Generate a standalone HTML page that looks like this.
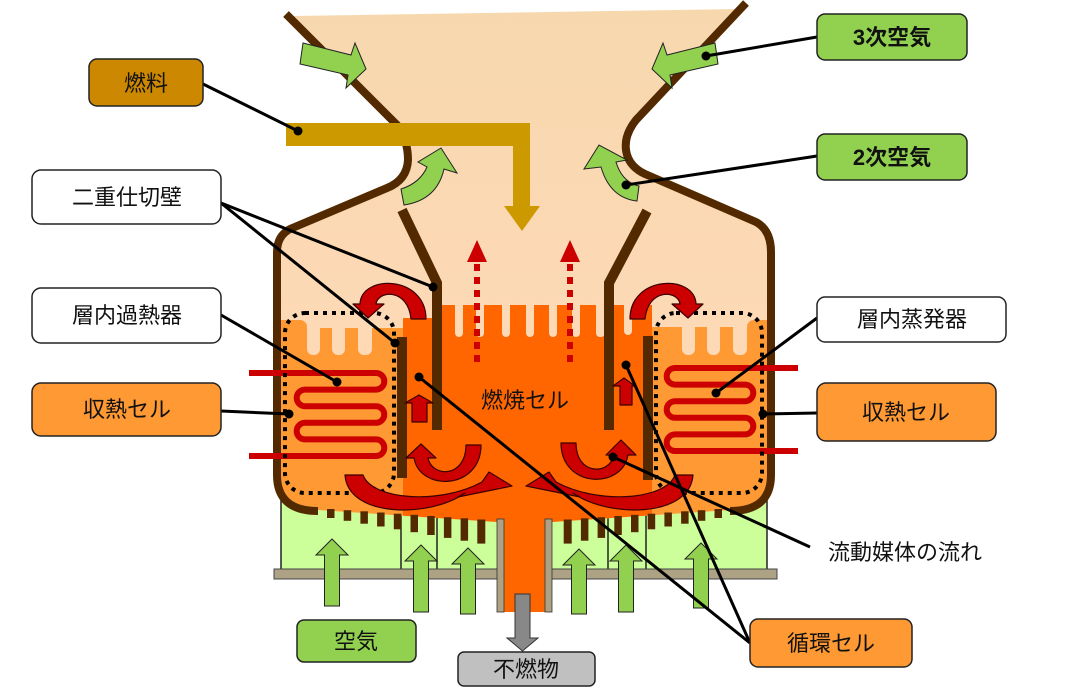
<!DOCTYPE html>
<html><head><meta charset="utf-8"><style>
html,body{margin:0;padding:0;background:#fff;}
svg{display:block;}
text{font-family:"Liberation Sans","Noto Sans CJK JP",sans-serif;font-size:22px;fill:#111;}
</style></head><body>
<svg width="1087" height="691" viewBox="0 0 1087 691" xmlns="http://www.w3.org/2000/svg">
<defs>
<linearGradient id="pg" gradientUnits="userSpaceOnUse" x1="0" y1="0" x2="0" y2="320">
<stop offset="0" stop-color="#F7D8AD"/><stop offset="1" stop-color="#FDD9B6"/>
</linearGradient>
<clipPath id="vc"><path d="M293,16 L740,9 L636,120 Q624,135 626,150 Q628,166 645,174 L756,222 Q771,230 771,252 L771,475 Q771,510 730,510 L552,522 L552,612 L497,612 L497,522 L318,510 Q277,510 277,475 L277,252 Q277,236 290,229 L387,188 Q407,180 408,160 Q408,140 397,125 Z"/></clipPath>
</defs>

<!-- green windbox -->
<rect x="281" y="490" width="486" height="80" fill="#CCFF99" stroke="#222" stroke-width="1.5"/>
<g stroke="#222" stroke-width="1.5">
<line x1="401" y1="490" x2="401" y2="570"/><line x1="437" y1="490" x2="437" y2="570"/>
<line x1="608" y1="490" x2="608" y2="570"/><line x1="646" y1="490" x2="646" y2="570"/>
</g>
<rect x="274" y="569" width="503" height="10" fill="#ADA283" stroke="#444" stroke-width="1"/>

<!-- vessel interior -->
<g clip-path="url(#vc)">
<rect x="260" y="0" width="530" height="620" fill="url(#pg)"/>
<rect x="270" y="328" width="133" height="250" fill="#FF9933"/>
<rect x="270" y="320" width="37" height="40" rx="7" fill="#FF9933"/>
<g fill="#FDD9B6">
<rect x="307" y="305" width="13" height="50" rx="6"/><rect x="332" y="305" width="13" height="50" rx="6"/><rect x="358" y="305" width="14" height="50" rx="6"/>
</g>
<rect x="652" y="327" width="130" height="250" fill="#FF9933"/>
<rect x="747" y="320" width="30" height="40" rx="7" fill="#FF9933"/>
<g fill="#FDD9B6">
<rect x="682" y="305" width="13" height="50" rx="6"/><rect x="707" y="305" width="13" height="50" rx="6"/><rect x="733" y="305" width="14" height="50" rx="6"/>
</g>
<rect x="403" y="305" width="249" height="320" fill="#FF6600"/>
<g fill="#FDD9B6">
<rect x="403" y="290" width="30" height="28"/>
<rect x="455" y="295" width="8" height="42" rx="4"/><rect x="476" y="295" width="8" height="42" rx="4"/>
<rect x="502" y="295" width="8" height="42" rx="4"/><rect x="526" y="295" width="8" height="42" rx="4"/>
<rect x="549" y="295" width="8" height="42" rx="4"/><rect x="572" y="295" width="8" height="42" rx="4"/>
<rect x="596" y="295" width="9" height="42" rx="4"/><rect x="624" y="295" width="8" height="40" rx="4"/>
</g>
</g>

<!-- outlet pipe -->
<rect x="497" y="515" width="55" height="97" fill="#FF6600"/>
<rect x="497" y="519" width="7" height="93" fill="#ADA283" stroke="#333" stroke-width="0.8"/>
<rect x="545" y="519" width="7" height="93" fill="#ADA283" stroke="#333" stroke-width="0.8"/>

<!-- teeth -->
<g fill="#532A00">
<rect x="327" y="509" width="7.5" height="9"/><rect x="343.7" y="510.2" width="7.5" height="10.6"/>
<rect x="360.4" y="511.3" width="7.5" height="12.4"/><rect x="377.1" y="512.5" width="7.5" height="14"/>
<rect x="393.8" y="513.7" width="7.5" height="15.6"/><rect x="410.5" y="514.8" width="7.5" height="17.4"/>
<rect x="427.2" y="516" width="7.5" height="19"/><rect x="443.9" y="517.2" width="7.5" height="20.7"/>
<rect x="460.6" y="518.3" width="7.5" height="22.4"/><rect x="477.3" y="519.5" width="8" height="24.1"/>
<rect x="714.5" y="509" width="7.5" height="9"/><rect x="697.8" y="510.2" width="7.5" height="10.6"/>
<rect x="681.1" y="511.3" width="7.5" height="12.4"/><rect x="664.4" y="512.5" width="7.5" height="14"/>
<rect x="647.7" y="513.7" width="7.5" height="15.6"/><rect x="631" y="514.8" width="7.5" height="17.4"/>
<rect x="614.3" y="516" width="7.5" height="19"/><rect x="597.6" y="517.2" width="7.5" height="20.7"/>
<rect x="580.9" y="518.3" width="7.5" height="22.4"/><rect x="563.7" y="519.5" width="8" height="24.1"/>
</g>

<!-- walls -->
<g fill="none" stroke="#532A00" stroke-width="8" stroke-linejoin="round">
<path d="M286,14 L397,125 Q408,140 408,160 Q407,180 387,188 L290,229 Q277,236 277,252 L277,475 Q277,511 318,511"/>
<path d="M746,3 L636,120 Q624,135 626,150 Q628,166 645,174 L756,222 Q771,230 771,252 L771,475 Q771,511 730,511"/>
</g>

<!-- fuel -->
<rect x="286" y="123" width="244" height="23" fill="#CC9900"/>
<rect x="513" y="123" width="17" height="84" fill="#CC9900"/>
<polygon points="504,206 540,206 522,231" fill="#CC9900"/>

<!-- partitions -->
<polyline points="402,210 437,283 437,430" fill="none" stroke="#532A00" stroke-width="10"/>
<polyline points="647,211 609,283 609,430" fill="none" stroke="#532A00" stroke-width="10"/>
<rect x="397" y="337" width="10" height="141" fill="#532A00"/>
<rect x="643" y="336" width="10" height="144" fill="#532A00"/>

<!-- serpentines -->
<g fill="none" stroke="#CC0000" stroke-width="6">
<path d="M249,373 L376,373 A8.3,8.3 0 0 1 376,389.6 L305,389.6 A8.3,8.3 0 0 0 305,406.2 L376,406.2 A8.3,8.3 0 0 1 376,422.8 L305,422.8 A8.3,8.3 0 0 0 305,439.4 L376,439.4 A8.3,8.3 0 0 1 376,456 L249,456"/>
<path d="M798,368 L675,368 A8.3,8.3 0 0 0 675,384.6 L745,384.6 A8.3,8.3 0 0 1 745,401.2 L675,401.2 A8.3,8.3 0 0 0 675,417.8 L745,417.8 A8.3,8.3 0 0 1 745,434.4 L675,434.4 A8.3,8.3 0 0 0 675,451 L798,451"/>
</g>

<!-- dotted cells -->
<g fill="none" stroke="#000" stroke-width="4" stroke-dasharray="4 5">
<rect x="285" y="313" width="109" height="180" rx="20"/>
<rect x="656" y="313" width="106" height="180" rx="20"/>
</g>

<!-- green air arrows top -->
<g fill="#92D050" stroke="#222" stroke-width="1">
<polygon points="303,43 351,55 355,43 366,69 346,88 348,75 300,64"/>
<polygon points="715,43 667,55 663,43 652,69 672,88 670,75 718,64"/>
<path d="M401,189 Q420,183 427,167 L418,162 L441,148 L457,173 L444,169 Q437,200 404,205 Z"/>
<path d="M639,186 Q622,182 616,162 L627,160 L599,145 L584,169 L601,167 Q610,198 637,201 Z"/>
</g>

<!-- red flow arrows -->
<g fill="#CC0000" stroke="#3A0000" stroke-width="1.2" stroke-linejoin="round">
<path d="M426,319 C426,275 361,274 360,304 L353,304 L368,318 L384,304 L376,304 C378,290 408,288 411,319 Z"/>
<path d="M630,319 C630,275 695,274 696,304 L703,304 L688,318 L672,304 L680,304 C678,290 648,288 645,319 Z"/>
<polygon points="419,395 433,403 427,403 427,422 412,422 412,403 405,403"/>
<polygon points="624,378 635,386 632,386 632,405 620,405 620,386 613,386"/>
<path d="M481,445 C481,490 420,492 414,458 L406,458 L421,444 L436,458 L428,458 C432,478 466,478 466,445 Z"/>
<path d="M561,443 C561,488 622,490 628,455 L636,455 L621,440 L606,455 L614,455 C610,475 576,476 576,443 Z"/>
<path d="M345,475 C348,518 430,518 465,493 L458,497 L512,486 L489,472 L482,482 C440,505 372,500 363,475 Z"/>
<path d="M693,475 C690,518 608,518 573,493 L580,497 L526,486 L549,472 L556,482 C598,505 666,500 675,475 Z"/>
</g>
<g stroke="#CC0000" stroke-width="6" stroke-dasharray="7 6">
<line x1="477" y1="362" x2="477" y2="262"/><line x1="570" y1="362" x2="570" y2="262"/>
</g>
<g fill="#CC0000">
<polygon points="467,262 487,262 477,240"/><polygon points="560,262 580,262 570,240"/>
</g>

<!-- bottom air arrows -->
<g fill="#92D050" stroke="#222" stroke-width="1">
<polygon points="332,539 348,555 339.5,555 339.5,606 324.5,606 324.5,555 316,555"/>
<polygon points="421,545 437,561 428.5,561 428.5,612 413.5,612 413.5,561 405,561"/>
<polygon points="468,548 484,564 475.5,564 475.5,614 460.5,614 460.5,564 452,564"/>
<polygon points="579,549 595,565 586.5,565 586.5,614 571.5,614 571.5,565 563,565"/>
<polygon points="626,545 642,561 633.5,561 633.5,612 618.5,612 618.5,561 610,561"/>
<polygon points="701,543 717,559 708.5,559 708.5,608 693.5,608 693.5,559 685,559"/>
</g>
<polygon points="515,594 530,594 530,638 538,638 522.5,651 507,638 515,638" fill="#888" stroke="#333" stroke-width="1"/>

<!-- connectors -->
<g stroke="#000" stroke-width="3" fill="none">
<line x1="203" y1="84" x2="298" y2="131"/>
<line x1="221" y1="203" x2="433" y2="287"/>
<line x1="221" y1="203" x2="395" y2="343"/>
<line x1="221" y1="315" x2="337" y2="382"/>
<line x1="221" y1="411" x2="289" y2="414"/>
<line x1="817" y1="37" x2="706" y2="56"/>
<line x1="817" y1="156" x2="626" y2="185"/>
<line x1="817" y1="318" x2="716" y2="393"/>
<line x1="817" y1="413" x2="763" y2="414"/>
<line x1="810" y1="547" x2="613" y2="457"/>
<line x1="750" y1="643" x2="419" y2="377"/>
<line x1="750" y1="643" x2="626" y2="365"/>
</g>
<g fill="#000">
<circle cx="298" cy="131" r="4.5"/><circle cx="433" cy="287" r="4.5"/><circle cx="395" cy="343" r="4.5"/>
<circle cx="337" cy="382" r="4.5"/><circle cx="289" cy="414" r="4.5"/><circle cx="706" cy="56" r="4.5"/>
<circle cx="626" cy="185" r="4.5"/><circle cx="716" cy="393" r="4.5"/><circle cx="763" cy="414" r="4.5"/>
<circle cx="613" cy="457" r="4.5"/><circle cx="419" cy="377" r="4.5"/><circle cx="626" cy="365" r="4.5"/>
</g>

<!-- labels -->
<g stroke="#222" stroke-width="1.5">
<rect x="89" y="59" width="114" height="47" rx="8" fill="#CC8800"/>
<rect x="32" y="170" width="189" height="54" rx="9" fill="#fff"/>
<rect x="32" y="288" width="189" height="55" rx="9" fill="#fff"/>
<rect x="32" y="383" width="189" height="53" rx="9" fill="#FF9933"/>
<rect x="817" y="14" width="150" height="46" rx="8" fill="#92D050"/>
<rect x="817" y="134" width="150" height="46" rx="8" fill="#92D050"/>
<rect x="817" y="297" width="189" height="45" rx="8" fill="#fff"/>
<rect x="817" y="383" width="179" height="58" rx="9" fill="#FF9933"/>
<rect x="297" y="620" width="119" height="42" rx="7" fill="#92D050"/>
<rect x="458" y="652" width="137" height="34" rx="6" fill="#C0C0C0"/>
<rect x="750" y="619" width="162" height="48" rx="8" fill="#FF9933"/>
</g>
<g text-anchor="middle">
<text x="146" y="91">燃料</text>
<text x="127" y="205">二重仕切壁</text>
<text x="127" y="323">層内過熱器</text>
<text x="127" y="417">収熱セル</text>
<text x="892" y="45" font-weight="bold">3次空気</text>
<text x="892" y="165" font-weight="bold">2次空気</text>
<text x="912" y="327">層内蒸発器</text>
<text x="906" y="420">収熱セル</text>
<text x="356" y="649">空気</text>
<text x="526" y="677">不燃物</text>
<text x="831" y="651">循環セル</text>
<text x="525" y="408">燃焼セル</text>
</g>
<text x="828" y="560">流動媒体の流れ</text>
</svg>
</body></html>
